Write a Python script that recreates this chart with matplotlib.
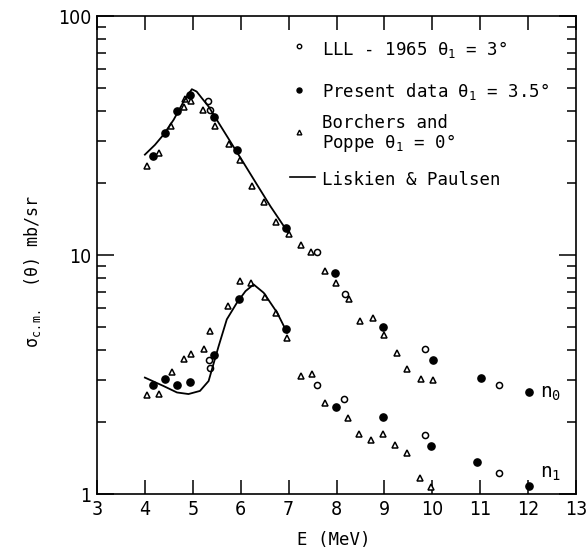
import matplotlib
matplotlib.use('Agg')
import matplotlib.pyplot as plt
from matplotlib import font_manager
from matplotlib.ticker import LogLocator, NullFormatter

# n0 group (upper)
lll_n0_E = [5.32, 5.35, 7.60, 8.17, 9.84, 11.40]
lll_n0_s = [43.9, 40.5, 10.3, 6.9, 4.06, 2.86]
pres_n0_E = [4.17, 4.42, 4.68, 4.95, 5.45, 5.92, 6.95, 7.96, 8.97, 10.01, 11.01, 12.01]
pres_n0_s = [25.9, 32.4, 39.9, 46.8, 37.8, 27.6, 13.0, 8.42, 5.0, 3.64, 3.05, 2.68]
bp_n0_E = [4.05, 4.29, 4.55, 4.82, 4.84, 4.96, 5.22, 5.47, 5.75, 5.98, 6.24, 6.48, 6.74,
           7.00, 7.25, 7.46, 7.75, 7.98, 8.26, 8.50, 8.76, 8.99, 9.26, 9.48, 9.77, 10.01]
bp_n0_s = [23.5, 26.7, 34.5, 41.8, 44.9, 43.9, 40.5, 34.7, 29.1, 25.0, 19.5, 16.6, 13.7,
           12.2, 11.0, 10.3, 8.56, 7.65, 6.52, 5.29, 5.47, 4.61, 3.88, 3.35, 3.02, 2.99]
lp_n0_E = [4.00, 4.21, 4.39, 4.60, 4.81, 4.98, 5.08, 5.19, 5.33, 5.50, 5.78, 6.06, 6.34, 6.62, 6.90, 7.00]
lp_n0_s = [26.3, 28.9, 31.9, 36.8, 43.9, 49.4, 48.3, 45.3, 41.8, 36.8, 29.9, 24.3, 19.7, 16.0, 13.2, 12.4]

# n1 group (lower)
lll_n1_E = [5.33, 5.36, 7.59, 8.15, 9.84, 11.40]
lll_n1_s = [3.64, 3.36, 2.86, 2.49, 1.77, 1.23]
pres_n1_E = [4.17, 4.43, 4.68, 4.95, 5.44, 5.96, 6.94, 7.98, 8.97, 9.98, 10.94, 12.01]
pres_n1_s = [2.85, 3.04, 2.85, 2.94, 3.82, 6.52, 4.89, 2.32, 2.10, 1.59, 1.36, 1.08]
bp_n1_E = [4.05, 4.29, 4.57, 4.82, 4.96, 5.24, 5.36, 5.73, 5.99, 6.22, 6.51, 6.74, 6.97,
           7.25, 7.49, 7.77, 8.24, 8.47, 8.73, 8.97, 9.22, 9.48, 9.74, 9.98]
bp_n1_s = [2.60, 2.63, 3.25, 3.66, 3.84, 4.03, 4.81, 6.11, 7.78, 7.60, 6.69, 5.70, 4.51,
           3.12, 3.19, 2.41, 2.09, 1.79, 1.68, 1.79, 1.60, 1.48, 1.17, 1.07]
lp_n1_E = [4.00, 4.39, 4.67, 4.91, 5.15, 5.33, 5.43, 5.54, 5.71, 5.92, 6.10, 6.27, 6.48, 6.76, 6.97]
lp_n1_s = [3.07, 2.83, 2.66, 2.62, 2.70, 2.97, 3.49, 4.16, 5.38, 6.31, 7.06, 7.53, 6.95, 5.74, 4.73]

xticks = [3, 4, 5, 6, 7, 8, 9, 10, 11, 12, 13]
yticks = [1, 10, 100]
ytick_labels = ['1', '10', '100']

# narrow sans for tick numbers if one is installed
fonts = font_manager.fontManager.ttflist
narrow = [f for f in fonts if 'Narrow' in f.name or 'Condensed' in f.name
          or f.stretch in ('condensed', 'semi-condensed')]
if narrow:
    tickfont = dict(fontfamily=narrow[0].name, fontstretch=narrow[0].stretch, fontsize=14)
else:
    tickfont = dict(fontfamily='Liberation Sans', fontsize=13)
mono = 'DejaVu Sans Mono'

plt.rcParams['font.family'] = mono
plt.rcParams['mathtext.fontset'] = 'custom'
plt.rcParams['mathtext.rm'] = mono
plt.rcParams['mathtext.it'] = mono

fig = plt.figure(figsize=(5.86, 5.48), dpi=100)
ax = fig.add_axes([0.1655, 0.0985, 0.8175, 0.8723])

k = 'black'
for E, s in [(lll_n0_E, lll_n0_s), (lll_n1_E, lll_n1_s)]:
    ax.plot(E, s, 'o', ms=4.4, mfc='white', mec=k, mew=1.1, ls='none')
for E, s in [(pres_n0_E, pres_n0_s), (pres_n1_E, pres_n1_s)]:
    ax.plot(E, s, 'o', ms=5.2, mfc=k, mec=k, ls='none')
for E, s in [(bp_n0_E, bp_n0_s), (bp_n1_E, bp_n1_s)]:
    ax.plot(E, s, '^', ms=5.0, mfc='white', mec=k, mew=1.1, ls='none')
for E, s in [(lp_n0_E, lp_n0_s), (lp_n1_E, lp_n1_s)]:
    ax.plot(E, s, '-', color=k, lw=1.3)

ax.set_yscale('log')
ax.set_xlim(3, 13)
ax.set_ylim(1, 100)
ax.set_xticks(xticks)
ax.set_xticklabels([str(t) for t in xticks], **tickfont)
ax.set_yticks(yticks)
ax.set_yticklabels(ytick_labels, **tickfont)
ax.yaxis.set_minor_locator(LogLocator(base=10, subs=range(2, 10)))
ax.yaxis.set_minor_formatter(NullFormatter())
ax.tick_params(axis='x', which='major', direction='in', length=10, width=1.1,
               top=True, pad=4)
ax.tick_params(axis='y', which='major', direction='in', length=12, width=1.1,
               right=True, pad=4)
ax.tick_params(axis='y', which='minor', direction='in', length=6.5, width=1.1,
               right=True)
for sp in ax.spines.values():
    sp.set_linewidth(1.2)

# legend drawn by hand
tr = ax.transAxes
fs = 12.5
ax.plot([0.4223], [0.937], 'o', ms=3.2, mfc='white', mec=k, mew=1.0, transform=tr, clip_on=False)
ax.text(0.4697, 0.918, 'LLL - 1965 θ$_1$ = 3°', transform=tr, fontsize=fs, va='baseline')
ax.plot([0.4223], [0.846], 'o', ms=3.6, mfc=k, mec=k, transform=tr, clip_on=False)
ax.text(0.4697, 0.831, 'Present data θ$_1$ = 3.5°', transform=tr, fontsize=fs, va='baseline')
ax.plot([0.4223], [0.758], '^', ms=3.4, mfc='white', mec=k, mew=1.0, transform=tr, clip_on=False)
ax.text(0.4697, 0.765, 'Borchers and', transform=tr, fontsize=fs, va='baseline')
ax.text(0.4697, 0.723, 'Poppe θ$_1$ = 0°', transform=tr, fontsize=fs, va='baseline')
ax.plot([0.403, 0.455], [0.664, 0.664], '-', color=k, lw=1.2, transform=tr)
ax.text(0.4697, 0.646, 'Liskien & Paulsen', transform=tr, fontsize=fs, va='baseline')

ax.text(12.25, 2.53, 'n$_0$', fontsize=14, va='baseline')
ax.text(12.25, 1.17, 'n$_1$', fontsize=14, va='baseline')

fig.text(0.055, 0.504, r'σ$_{\rm c.m.}$  (θ) mb/sr', rotation=90, fontsize=12,
         ha='center', va='center')
fig.text(0.57, 0.0146, 'E (MeV)', fontsize=12.5, ha='center', va='center')

fig.savefig('out.png', dpi=100)
